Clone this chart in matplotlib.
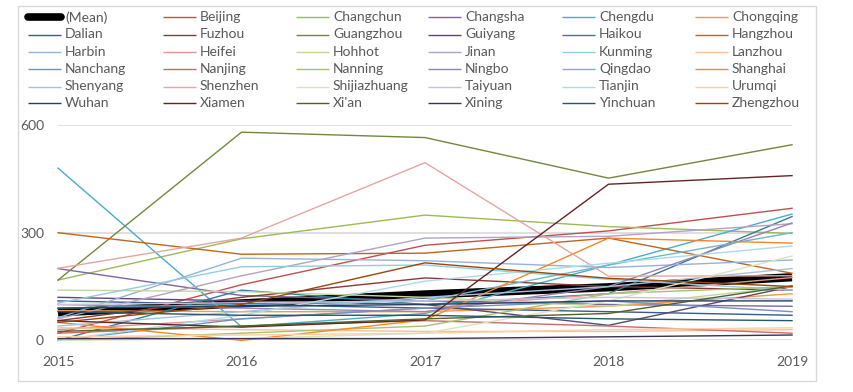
import matplotlib.pyplot as plt
from matplotlib.lines import Line2D

years = [2015, 2016, 2017, 2018, 2019]

mean_values = [78, 103, 128, 148, 176]

cities = [
    "Beijing", "Changchun", "Changsha", "Chengdu", "Chongqing",
    "Dalian", "Fuzhou", "Guangzhou", "Guiyang", "Haikou", "Hangzhou",
    "Harbin", "Heifei", "Hohhot", "Jinan", "Kunming", "Lanzhou",
    "Nanchang", "Nanjing", "Nanning", "Ningbo", "Qingdao", "Shanghai",
    "Shenyang", "Shenzhen", "Shijiazhuang", "Taiyuan", "Tianjin", "Urumqi",
    "Wuhan", "Xiamen", "Xi'an", "Xining", "Yinchuan", "Zhengzhou",
]

city_values = [
    [20, 155, 265, 305, 368],   # Beijing
    [168, 283, 349, 317, 298],  # Changchun
    [200, 125, 110, 100, 95],   # Changsha
    [480, 38, 75, 210, 352],    # Chengdu
    [83, 80, 80, 95, 130],      # Chongqing
    [110, 100, 90, 80, 70],     # Dalian
    [55, 120, 174, 150, 140],   # Fuzhou
    [168, 580, 565, 452, 545],  # Guangzhou
    [120, 110, 100, 42, 150],   # Guiyang
    [0, 140, 100, 130, 345],    # Haikou
    [300, 240, 243, 285, 187],  # Hangzhou
    [63, 229, 222, 203, 224],   # Harbin
    [30, 60, 90, 130, 175],     # Heifei
    [140, 136, 120, 95, 150],   # Hohhot
    [60, 180, 285, 290, 325],   # Jinan
    [104, 205, 210, 170, 140],  # Kunming
    [35, 30, 25, 25, 30],       # Lanzhou
    [0, 60, 90, 110, 80],       # Nanchang
    [20, 40, 55, 40, 20],       # Nanjing
    [0, 20, 40, 130, 150],      # Nanning
    [100, 90, 80, 150, 327],    # Ningbo
    [90, 100, 110, 210, 300],   # Qingdao
    [50, 0, 57, 285, 271],      # Shanghai
    [40, 80, 120, 150, 200],    # Shenyang
    [201, 285, 495, 179, 180],  # Shenzhen
    [0, 5, 20, 110, 235],       # Shijiazhuang
    [100, 105, 110, 120, 115],  # Taiyuan
    [0, 70, 165, 215, 263],     # Tianjin
    [10, 15, 20, 30, 35],       # Urumqi
    [90, 95, 100, 110, 110],    # Wuhan
    [55, 37, 57, 435, 459],     # Xiamen
    [25, 40, 60, 75, 152],      # Xi'an
    [5, 5, 5, 10, 15],          # Xining
    [80, 70, 70, 60, 55],       # Yinchuan
    [50, 100, 216, 173, 150],   # Zhengzhou
]

city_colors = [
    "#C0504D", "#9BBB59", "#8064A2", "#4BACC6", "#F79646",
    "#385D8A", "#8C3836", "#71893F", "#5C4776", "#357D91", "#C0651E",
    "#95B3D7", "#D99694", "#C3D69B", "#B3A2C7", "#93CDDD", "#FAC090",
    "#7092BE", "#C96B69", "#A5C26F", "#9882B2", "#6FB7CA", "#F7862A",
    "#A7C0DE", "#E6A5A4", "#D7E4BD", "#CCC1DA", "#A9DBE8", "#FCCFA8",
    "#254061", "#632523", "#4F6228", "#3F3151", "#215968", "#974806",
]

plt.rcParams['font.family'] = ['Lato', 'DejaVu Sans']
text_color = "#595959"

fig = plt.figure(figsize=(8.54, 3.92), dpi=100)
W, H = 854, 392

# chart area border
fig.add_artist(plt.Rectangle((18 / W, 1 - 381 / H), (816 - 18) / W, (381 - 6) / H,
                             transform=fig.transFigure, fill=False,
                             edgecolor="#D9D9D9", lw=1.0))

ax = fig.add_axes([58 / W, 51.6 / H, (792 - 58) / W, (340.4 - 125) / H])
ax.plot(years, mean_values, color="black", lw=6, solid_capstyle="butt",
        zorder=2, clip_on=False)
for vals, col in zip(city_values, city_colors):
    ax.plot(years, vals, color=col, lw=1.0, zorder=3, clip_on=False)

ax.set_xlim(2015, 2019)
ax.set_ylim(0, 600)
ax.set_xticks(years)
ax.set_yticks([0, 300, 600])
ax.grid(axis="y", color="#D9D9D9", lw=1.2, zorder=0)
for s in ax.spines.values():
    s.set_visible(False)
ax.tick_params(length=0, labelsize=10, labelcolor=text_color)
ax.tick_params(axis="y", pad=10)
ax.tick_params(axis="x", pad=11)

# legend, six equal columns like the original
labels = ["(Mean)"] + cities
colors = ["black"] + city_colors
col_x = [28, 163, 296, 428, 562, 695]
row_y = [17.3, 34.5, 51.7, 69.0, 86.5, 103.5]
for i, (lab, col) in enumerate(zip(labels, colors)):
    r, c = divmod(i, 6)
    x0 = col_x[c]
    y = 1 - row_y[r] / H
    lw = 5.5 if i == 0 else 1.0
    fig.add_artist(Line2D([x0 / W, (x0 + 33) / W], [y, y], color=col, lw=lw,
                          solid_capstyle="round" if i == 0 else "butt",
                          transform=fig.transFigure))
    fig.text((x0 + 37) / W, y, lab, color=text_color, fontsize=10,
             va="center", ha="left")

fig.savefig("out.png", dpi=100)
